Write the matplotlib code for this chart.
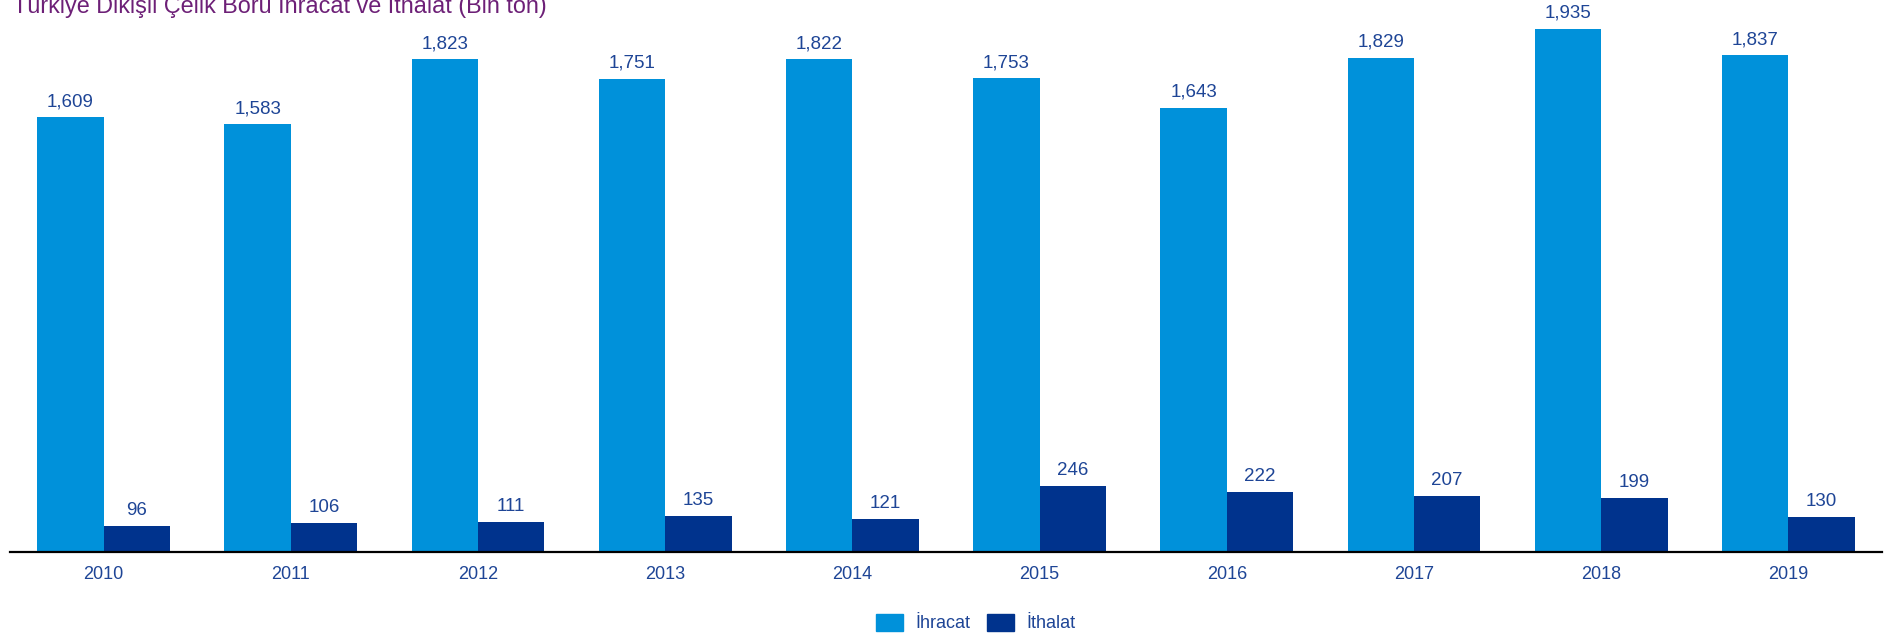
import numpy as np
import matplotlib.pyplot as plt
from matplotlib.patches import Patch

plt.rcParams['font.family'] = ['Liberation Sans', 'DejaVu Sans']

years = ["2010", "2011", "2012", "2013", "2014", "2015", "2016", "2017", "2018", "2019"]
ihracat = [1609, 1583, 1823, 1751, 1822, 1753, 1643, 1829, 1935, 1837]
ithalat = [96, 106, 111, 135, 121, 246, 222, 207, 199, 130]

light_blue = "#0091DA"
dark_blue = "#00338D"
text_blue = "#1E4596"
purple = "#6D2077"

fig = plt.figure(figsize=(18.89, 6.37), dpi=100)
ax = fig.add_axes([10 / 1889, 1 - 552 / 637, 1872 / 1889, 552 / 637])

x = np.arange(len(years))
w = 0.355
b1 = ax.bar(x - w / 2, ihracat, w, color=light_blue)
b2 = ax.bar(x + w / 2, ithalat, w, color=dark_blue)

# value labels above each bar
for bars, vals in ((b1, ihracat), (b2, ithalat)):
    for bar, v in zip(bars, vals):
        ax.annotate(f"{v:,}", (bar.get_x() + bar.get_width() / 2, v),
                    xytext=(0, 5), textcoords="offset points",
                    ha="center", va="bottom", fontsize=13.5, color=text_blue)

ax.set_xlim(-0.5, 9.5)
ax.set_ylim(0, 2042)
ax.set_xticks(x)
ax.set_xticklabels(years, fontsize=13, color=text_blue)
ax.tick_params(axis="x", length=0, pad=10)
ax.set_yticks([])
for side in ("top", "right", "left"):
    ax.spines[side].set_visible(False)
ax.spines["bottom"].set_linewidth(1.6)
ax.spines["bottom"].set_color("black")

fig.text(13 / 1889, 1 - 13 / 637, "Türkiye Dikişli Çelik Boru İhracat ve İthalat (Bin ton)",
         fontsize=16.8, color=purple, ha="left", va="baseline")

handles = [Patch(color=light_blue, label="İhracat"), Patch(color=dark_blue, label="İthalat")]
fig.legend(handles=handles, loc="center", bbox_to_anchor=(976 / 1889, 1 - 623 / 637),
           ncol=2, frameon=False, fontsize=13, labelcolor=text_blue,
           handlelength=1.5, handleheight=1.1, handletextpad=0.7, columnspacing=0.9)

fig.savefig("out.png", dpi=100)
